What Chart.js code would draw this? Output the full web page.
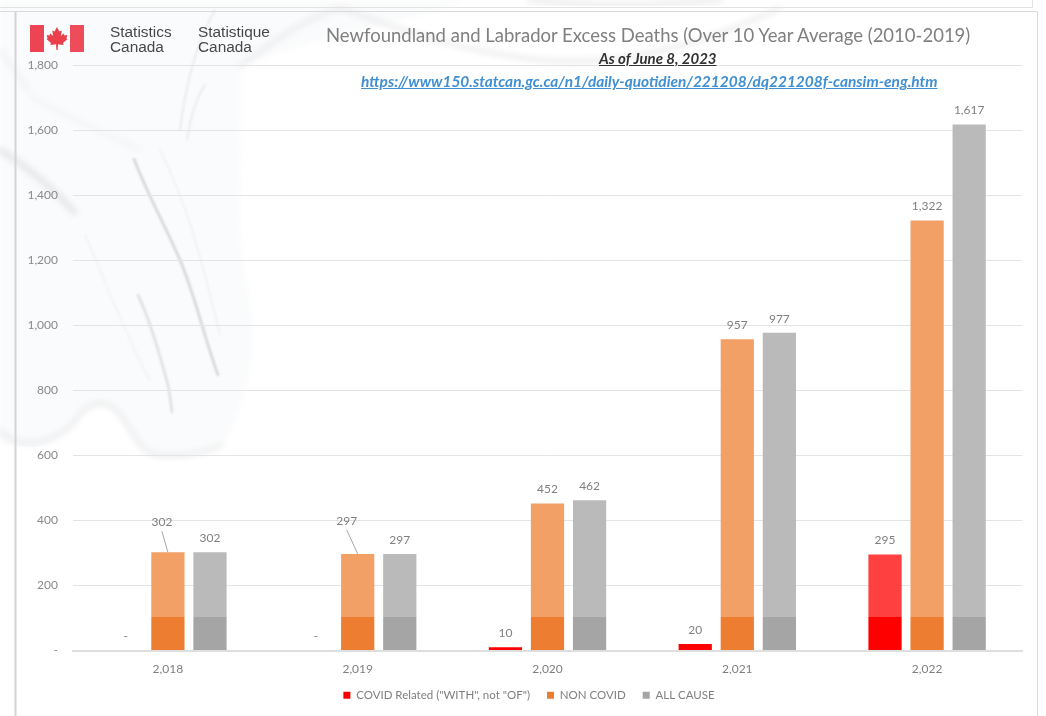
<!DOCTYPE html>
<html>
<head>
<meta charset="utf-8">
<title>Newfoundland and Labrador Excess Deaths</title>
<script src="https://cdn.jsdelivr.net/npm/chart.js@4"></script>
<style>
  html, body { margin: 0; padding: 0; background: #fff; }
  #page { position: relative; width: 1046px; height: 716px; overflow: hidden; }
  #fondo, #grafico { position: absolute; left: 0; top: 0; }
  .txt { position: absolute; white-space: nowrap; }
  .logo { font-family: "Liberation Sans", sans-serif; font-size: 15.4px; line-height: 15px; color: #484848; top: 23.5px; }
  #titulo { left: 326px; top: 24px; font: 18.5px Lato, sans-serif; color: #808080; }
  #fecha { left: 599px; top: 49px; font: italic bold 15px Lato, sans-serif; color: #333; text-decoration: underline; }
  #enlace { left: 361px; top: 72px; font: italic bold 15.45px Lato, sans-serif; color: #3f8fd2; text-decoration: underline; }
</style>
</head>
<body>
<div id="page">
  <!-- Fondo: papel arrugado muy tenue y marcos -->
  <svg id="fondo" width="1046" height="716">
    <defs>
      <filter id="b1"><feGaussianBlur stdDeviation="1.2"/></filter>
      <filter id="b3"><feGaussianBlur stdDeviation="3"/></filter>
    </defs>
    <path d="M0 0 L470 0 C400 25 320 35 241 66 L240 230 C245 290 258 320 250 370 C240 410 232 430 222 445 C190 457 165 458 148 452 C130 440 125 405 100 403 C80 405 72 440 30 448 L0 442 Z" fill="#fafbfc" filter="url(#b3)"/>
    <g fill="none" stroke-linecap="round">
      <path d="M100 403 C125 405 130 440 148 452 C165 458 195 457 222 445" stroke="#e9eaeb" stroke-width="4" filter="url(#b3)"/>
      <path d="M0 430 C15 448 45 448 72 425 C80 412 90 404 100 403" stroke="#e9eaeb" stroke-width="4" filter="url(#b3)"/>
      <path d="M134 159 C150 200 165 225 180 260 C195 295 205 340 218 375" stroke="#d2d3d5" stroke-width="2.4" filter="url(#b1)"/>
      <path d="M138 295 C150 320 160 355 168 385 C170 395 171 405 172 412" stroke="#dcdde0" stroke-width="2.4" filter="url(#b1)"/>
      <path d="M160 150 C180 190 195 230 220 335" stroke="#eeeff1" stroke-width="1.6" filter="url(#b1)"/>
      <path d="M85 235 C105 280 125 335 150 380" stroke="#f0f1f3" stroke-width="1.6" filter="url(#b1)"/>
      <path d="M0 150 C25 165 55 190 74 212" stroke="#e4e5e8" stroke-width="6" filter="url(#b3)"/>
      <path d="M30 95 C60 115 110 135 140 150" stroke="#f0f1f2" stroke-width="3" filter="url(#b3)"/>
      <path d="M215 10 C195 45 185 90 180 130" stroke="#e8e9eb" stroke-width="1.8" filter="url(#b1)"/>
      <path d="M205 85 C195 100 190 120 187 140" stroke="#e6e7e9" stroke-width="1.5" filter="url(#b1)"/>
      <path d="M0 50 C10 65 20 75 28 90" stroke="#ebecee" stroke-width="3" filter="url(#b3)"/>
      <path d="M240 66 C270 45 300 20 340 8 C390 25 450 50 540 60 C620 66 690 50 780 8" stroke="#e9eaeb" stroke-width="4" filter="url(#b3)"/>
      <path d="M530 0 C600 8 660 6 720 0" stroke="#ecedee" stroke-width="6" filter="url(#b3)"/>
    </g>
    <path d="M0 7.5 H1032.5 V0" fill="none" stroke="#e2e2e2"/>
    <path d="M0 11.5 H1037.5 V716" fill="none" stroke="#d9dadb"/>
    <path d="M15.5 11.5 V716" fill="none" stroke="#d3d4d6" stroke-width="2"/>
    <rect x="1039" y="0" width="7" height="716" fill="#fff"/>
    <!-- Logo -->
    <rect x="30" y="25" width="14" height="27" fill="#ec4452"/>
    <rect x="70" y="25" width="14" height="27" fill="#ee4c5a"/>
    <path d="M57 27 L59.4 31.5 L61.8 30.4 L60.8 36 L63.6 33.4 L64.6 35.4 L67.4 35 L66.4 38.4 L67.6 39 L63 43 L63.6 45 L58 44.2 L57.6 50 L56.4 50 L56 44.2 L50.4 45 L51 43 L46.4 39 L47.6 38.4 L46.6 35 L49.4 35.4 L50.4 33.4 L53.2 36 L52.2 30.4 L54.6 31.5 Z" fill="#ec3f4c"/>
  </svg>
  <canvas id="grafico" width="1046" height="716"></canvas>
  <div class="txt logo" style="left:110px">Statistics<br>Canada</div>
  <div class="txt logo" style="left:198px">Statistique<br>Canada</div>
  <div class="txt" id="titulo">Newfoundland and Labrador Excess Deaths (Over 10 Year Average (2010-2019)</div>
  <div class="txt" id="fecha">As of June 8, 2023</div>
  <div class="txt" id="enlace">https://www150.statcan.gc.ca/n1/daily-quotidien/221208/dq221208f-cansim-eng.htm</div>
</div>
<script>
// Datos
const anios = ['2,018', '2,019', '2,020', '2,021', '2,022'];
const covid = [0, 0, 10, 20, 295];
const noCovid = [302, 297, 452, 957, 1322];
const todas = [302, 297, 462, 977, 1617];

// Valor donde termina la zona sin velo blanco (la imagen de fondo aclara lo de arriba)
const limiteVelo = 103;

// Etiquetas desplazadas con línea guía: serie 1, categorías 2018 y 2019
const etiquetasMovidas = {
    '1-0': { dx: -6, dy: -16 },
    '1-1': { dx: -11, dy: -19 }
};

function formatoMiles(v) {
    return v === 0 ? '-' : v.toLocaleString('en-US');
}

// Color duro abajo, más claro por encima del límite
function colorBarra(oscuro, claro) {
    return function(ctx) {
        const chart = ctx.chart;
        if (!chart.chartArea) return oscuro;
        const y = chart.scales.y;
        const base = y.getPixelForValue(0);
        const corte = y.getPixelForValue(limiteVelo);
        const grad = chart.ctx.createLinearGradient(0, base, 0, y.top);
        const t = (base - corte) / (base - y.top);
        grad.addColorStop(0, oscuro);
        grad.addColorStop(t, oscuro);
        grad.addColorStop(t, claro);
        grad.addColorStop(1, claro);
        return grad;
    };
}

// Plugin para las etiquetas de valor encima de cada barra
const etiquetasValor = {
    id: 'etiquetasValor',
    afterDatasetsDraw(chart) {
        const c = chart.ctx;
        c.save();
        c.font = '12px Lato, sans-serif';
        c.fillStyle = '#7f7f7f';
        c.textAlign = 'center';
        c.textBaseline = 'middle';
        chart.data.datasets.forEach((ds, i) => {
            chart.getDatasetMeta(i).data.forEach((barra, j) => {
                const mov = etiquetasMovidas[i + '-' + j];
                const x = barra.x + (mov ? mov.dx : 0);
                const y = barra.y - 14 + (mov ? mov.dy : 0);
                c.fillText(formatoMiles(ds.data[j]), x, y);
                if (mov) {
                    // línea guía hasta la barra
                    c.strokeStyle = '#a6a6a6';
                    c.lineWidth = 1;
                    c.beginPath();
                    c.moveTo(x, y + 9);
                    c.lineTo(barra.x, barra.y);
                    c.stroke();
                }
            });
        });
        c.restore();
    }
};

// La leyenda del original está algo a la derecha del centro del área y más arriba
const moverLeyenda = {
    id: 'moverLeyenda',
    afterLayout(chart) {
        chart.legend.left += 18;
        chart.legend.right += 18;
        chart.legend.top -= 5;
        chart.legend.bottom -= 5;
    }
};

new Chart(document.getElementById('grafico').getContext('2d'), {
    type: 'bar',
    data: {
        labels: anios,
        datasets: [
            { label: 'COVID Related ("WITH", not "OF")', data: covid, backgroundColor: colorBarra('#ff0000', '#ff4040') },
            { label: 'NON COVID', data: noCovid, backgroundColor: colorBarra('#ed7d31', '#f2a066') },
            { label: 'ALL CAUSE', data: todas, backgroundColor: colorBarra('#a5a5a5', '#bababa') }
        ]
    },
    options: {
        responsive: false,
        animation: false,
        categoryPercentage: 0.665,
        barPercentage: 0.79,
        layout: { padding: { left: 0, right: 24, top: 65, bottom: 0 } },
        scales: {
            x: {
                grid: { display: false },
                border: { color: '#dedede', width: 2 },
                ticks: { color: '#7f7f7f', font: { family: 'Lato', size: 12 }, padding: 3 },
                afterFit(s) { s.height = 27; }
            },
            y: {
                min: 0,
                max: 1800,
                grid: { color: '#e4e4e6', drawTicks: false, lineWidth: 1 },
                border: { display: false },
                ticks: { stepSize: 200, color: '#8a8a8a', font: { family: 'Lato', size: 12 }, padding: 15, callback: formatoMiles },
                afterFit(s) { s.width = 73; }
            }
        },
        plugins: {
            legend: {
                position: 'bottom',
                labels: {
                    boxWidth: 7,
                    boxHeight: 7,
                    padding: 17,
                    color: '#7f7f7f',
                    font: { family: 'Lato', size: 11.5 }
                }
            },
            tooltip: { enabled: false }
        }
    },
    plugins: [etiquetasValor, moverLeyenda]
});
</script>
</body>
</html>
